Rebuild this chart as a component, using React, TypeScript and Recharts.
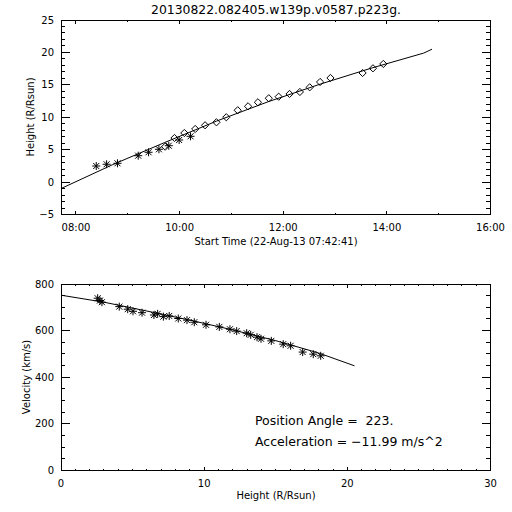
import React from 'react';
import { ScatterChart, Scatter, XAxis, YAxis, ReferenceArea } from 'recharts';

const FONT = '"DejaVu Sans", sans-serif';

const titleText = '20130822.082405.w139p.v0587.p223g.';
const startStamp = '22-Aug-13 07:42:41';
const startHour = 7 + 42 / 60 + 41 / 3600;

// top panel: hours after start time vs height
const starTime = [0.68, 0.88, 1.09, 1.49, 1.69, 1.89, 2.08, 2.28, 2.5];
const starHeight = [2.48, 2.75, 2.9, 4.07, 4.6, 5.06, 5.61, 6.49, 7.06];
const diamondTime = [2.01, 2.19, 2.38, 2.59, 2.78, 3.0, 3.19, 3.41, 3.61, 3.8, 4.01, 4.2, 4.41, 4.61, 4.8, 5.0, 5.2, 5.82, 6.02, 6.22];
const diamondHeight = [5.46, 6.8, 7.57, 8.19, 8.76, 9.22, 10.0, 11.08, 11.69, 12.31, 12.93, 13.17, 13.59, 13.9, 14.62, 15.44, 16.06, 16.83, 17.55, 18.22];
const fitTime = [0, 1, 2, 3, 4, 5, 6, 7, 7.16];
const fitHeight = [-1.0, 2.7, 6.1, 9.4, 12.4, 15.1, 17.6, 19.9, 20.5];
const clockHours = [8, 9, 10, 11, 12, 13, 14, 15, 16];
const clockLabels = ['08:00', '', '10:00', '', '12:00', '', '14:00', '', '16:00'];
const heightMajor = [-5, 0, 5, 10, 15, 20, 25];

// bottom panel: height vs velocity
const velHeight = [2.56, 2.72, 2.86, 4.07, 4.66, 5.03, 5.66, 6.49, 6.75, 7.15, 7.56, 8.19, 8.8, 9.31, 10.13, 11.06, 11.8, 12.27, 12.97, 13.25, 13.69, 13.97, 14.69, 15.52, 16.04, 16.88, 17.62, 18.14];
const velValue = [739, 729, 722, 703, 692, 683, 677, 667, 672, 660, 663, 652, 645, 636, 625, 616, 606, 598, 589, 582, 572, 565, 556, 542, 535, 508, 499, 492];
const velFitHeight = [0, 3, 6, 9, 12, 15, 18, 20.5];
const velFitValue = [752, 722, 684, 645, 603, 557, 504, 449];
const distMajor = [0, 10, 20, 30];
const velMajor = [0, 200, 400, 600, 800];

const posAngle = 'Position Angle =  223.';
const accelText = 'Acceleration = \u221211.99 m/s^2';

const range = (a: number, b: number, step: number) => {
  const out: number[] = [];
  for (let v = a; v <= b + 1e-9; v += step) out.push(Math.round(v * 1000) / 1000);
  return out;
};

const zip = (xs: number[], ys: number[], kx: string, ky: string) =>
  xs.map((x, i) => ({ [kx]: x, [ky]: ys[i] }));

const topStars = zip(starTime, starHeight, 't', 'h');
const topDiamonds = zip(diamondTime, diamondHeight, 't', 'h');
const topFit = zip(fitTime, fitHeight, 't', 'h');
const botStars = zip(velHeight, velValue, 'd', 'v');
const botFit = zip(velFitHeight, velFitValue, 'd', 'v');

const timeTicks = clockHours.map((h) => h - startHour);
const timeMax = 16 - startHour;

const TOP_W = 429.5;
const TOP_H = 194.5;
const BOT_W = 429.5;
const BOT_H = 186.5;

const Star = (props: any) => {
  const { cx, cy } = props;
  const r = 4;
  const d = 3;
  return (
    <g stroke="#000" strokeWidth={1}>
      <line x1={cx - r} y1={cy} x2={cx + r} y2={cy} />
      <line x1={cx} y1={cy - r} x2={cx} y2={cy + r} />
      <line x1={cx - d} y1={cy - d} x2={cx + d} y2={cy + d} />
      <line x1={cx - d} y1={cy + d} x2={cx + d} y2={cy - d} />
    </g>
  );
};

const Diamond = (props: any) => {
  const { cx, cy } = props;
  const r = 3.6;
  return (
    <polygon
      points={`${cx},${cy - r} ${cx + r},${cy} ${cx},${cy + r} ${cx - r},${cy}`}
      fill="none"
      stroke="#000"
      strokeWidth={1}
    />
  );
};

const NoDot = () => <g />;

function xTick(plotH: number, label: (v: number) => string) {
  return (props: any) => {
    const { x, y, payload } = props;
    const text = label(payload.value);
    const len = text ? 4 : 2;
    return (
      <g>
        <line x1={x} y1={y} x2={x} y2={y - len} stroke="#000" shapeRendering="crispEdges" />
        <line x1={x} y1={y - plotH} x2={x} y2={y - plotH + len} stroke="#000" shapeRendering="crispEdges" />
        {text && (
          <text x={x} y={y + 12.5} textAnchor="middle" dominantBaseline="central" fontSize={10} fontFamily={FONT} fill="#000">
            {text}
          </text>
        )}
      </g>
    );
  };
}

function yTick(plotW: number, label: (v: number) => string) {
  return (props: any) => {
    const { x, y, payload } = props;
    const text = label(payload.value);
    const len = text ? 8.6 : 4.3;
    return (
      <g>
        <line x1={x} y1={y} x2={x + len} y2={y} stroke="#000" shapeRendering="crispEdges" />
        <line x1={x + plotW} y1={y} x2={x + plotW - len} y2={y} stroke="#000" shapeRendering="crispEdges" />
        {text && (
          <text x={x - 7} y={y} textAnchor="end" dominantBaseline="central" fontSize={10} fontFamily={FONT} fill="#000">
            {text}
          </text>
        )}
      </g>
    );
  };
}

const timeLabel = (v: number) => {
  const i = clockHours.indexOf(Math.round(v + startHour));
  return i >= 0 ? clockLabels[i] : '';
};
const majorLabel = (majors: number[]) => (v: number) =>
  majors.includes(v) ? (v < 0 ? '\u2212' + Math.abs(v) : String(v)) : '';

const Label = ({ x, y, text, rotate, size = 10, align = 'center' }: any) => (
  <div
    style={{
      position: 'absolute',
      left: x,
      top: y,
      transform: `translate(${align === 'left' ? '0' : '-50%'}, -50%)${rotate ? ' rotate(-90deg)' : ''}`,
      fontFamily: FONT,
      fontSize: size,
      lineHeight: 1,
      whiteSpace: 'pre',
      color: '#000',
    }}
  >
    {text}
  </div>
);

export default function App() {
  return (
    <div style={{ position: 'absolute', left: 0, top: 0, width: 512, height: 512, background: '#fff', overflow: 'hidden' }}>
      <div style={{ position: 'absolute', left: 0, top: 0 }}>
        <ScatterChart width={512} height={250} margin={{ top: 20, right: 21.5, bottom: 5.5, left: 21 }}>
          <XAxis
            type="number"
            dataKey="t"
            domain={[0, timeMax]}
            ticks={timeTicks}
            interval={0}
            allowDataOverflow
            height={30}
            tickSize={0}
            tickMargin={0}
            tickLine={false}
            axisLine={false}
            tick={xTick(TOP_H, timeLabel)}
          />
          <YAxis
            type="number"
            dataKey="h"
            domain={[-5, 25]}
            ticks={range(-5, 25, 1)}
            interval={0}
            allowDataOverflow
            width={40}
            tickSize={0}
            tickMargin={0}
            tickLine={false}
            axisLine={false}
            tick={yTick(TOP_W, majorLabel(heightMajor))}
          />
          <ReferenceArea x1={0} x2={timeMax} y1={-5} y2={25} fill="none" stroke="#000" strokeWidth={1} shapeRendering="crispEdges" />
          <Scatter data={topFit} line={{ stroke: '#000', strokeWidth: 1 }} lineType="joint" shape={NoDot} isAnimationActive={false} />
          <Scatter data={topStars} shape={Star} isAnimationActive={false} />
          <Scatter data={topDiamonds} shape={Diamond} isAnimationActive={false} />
        </ScatterChart>
      </div>
      <div style={{ position: 'absolute', left: 0, top: 250 }}>
        <ScatterChart width={512} height={262} margin={{ top: 34, right: 21.5, bottom: 11.5, left: 21 }}>
          <XAxis
            type="number"
            dataKey="d"
            domain={[0, 30]}
            ticks={range(0, 30, 1)}
            interval={0}
            allowDataOverflow
            height={30}
            tickSize={0}
            tickMargin={0}
            tickLine={false}
            axisLine={false}
            tick={xTick(BOT_H, majorLabel(distMajor))}
          />
          <YAxis
            type="number"
            dataKey="v"
            domain={[0, 800]}
            ticks={range(0, 800, 50)}
            interval={0}
            allowDataOverflow
            width={40}
            tickSize={0}
            tickMargin={0}
            tickLine={false}
            axisLine={false}
            tick={yTick(BOT_W, majorLabel(velMajor))}
          />
          <ReferenceArea x1={0} x2={30} y1={0} y2={800} fill="none" stroke="#000" strokeWidth={1} shapeRendering="crispEdges" />
          <Scatter data={botFit} line={{ stroke: '#000', strokeWidth: 1 }} lineType="joint" shape={NoDot} isAnimationActive={false} />
          <Scatter data={botStars} shape={Star} isAnimationActive={false} />
        </ScatterChart>
      </div>
      <Label x={276} y={10} text={titleText} size={12.4} />
      <Label x={31} y={117} text="Height (R/Rsun)" rotate />
      <Label x={276} y={242} text={`Start Time (${startStamp})`} />
      <Label x={27} y={377} text="Velocity (km/s)" rotate />
      <Label x={276} y={496} text="Height (R/Rsun)" />
      <Label x={255} y={421} text={posAngle} size={12.5} align="left" />
      <Label x={255} y={442} text={accelText} size={12.5} align="left" />
    </div>
  );
}
